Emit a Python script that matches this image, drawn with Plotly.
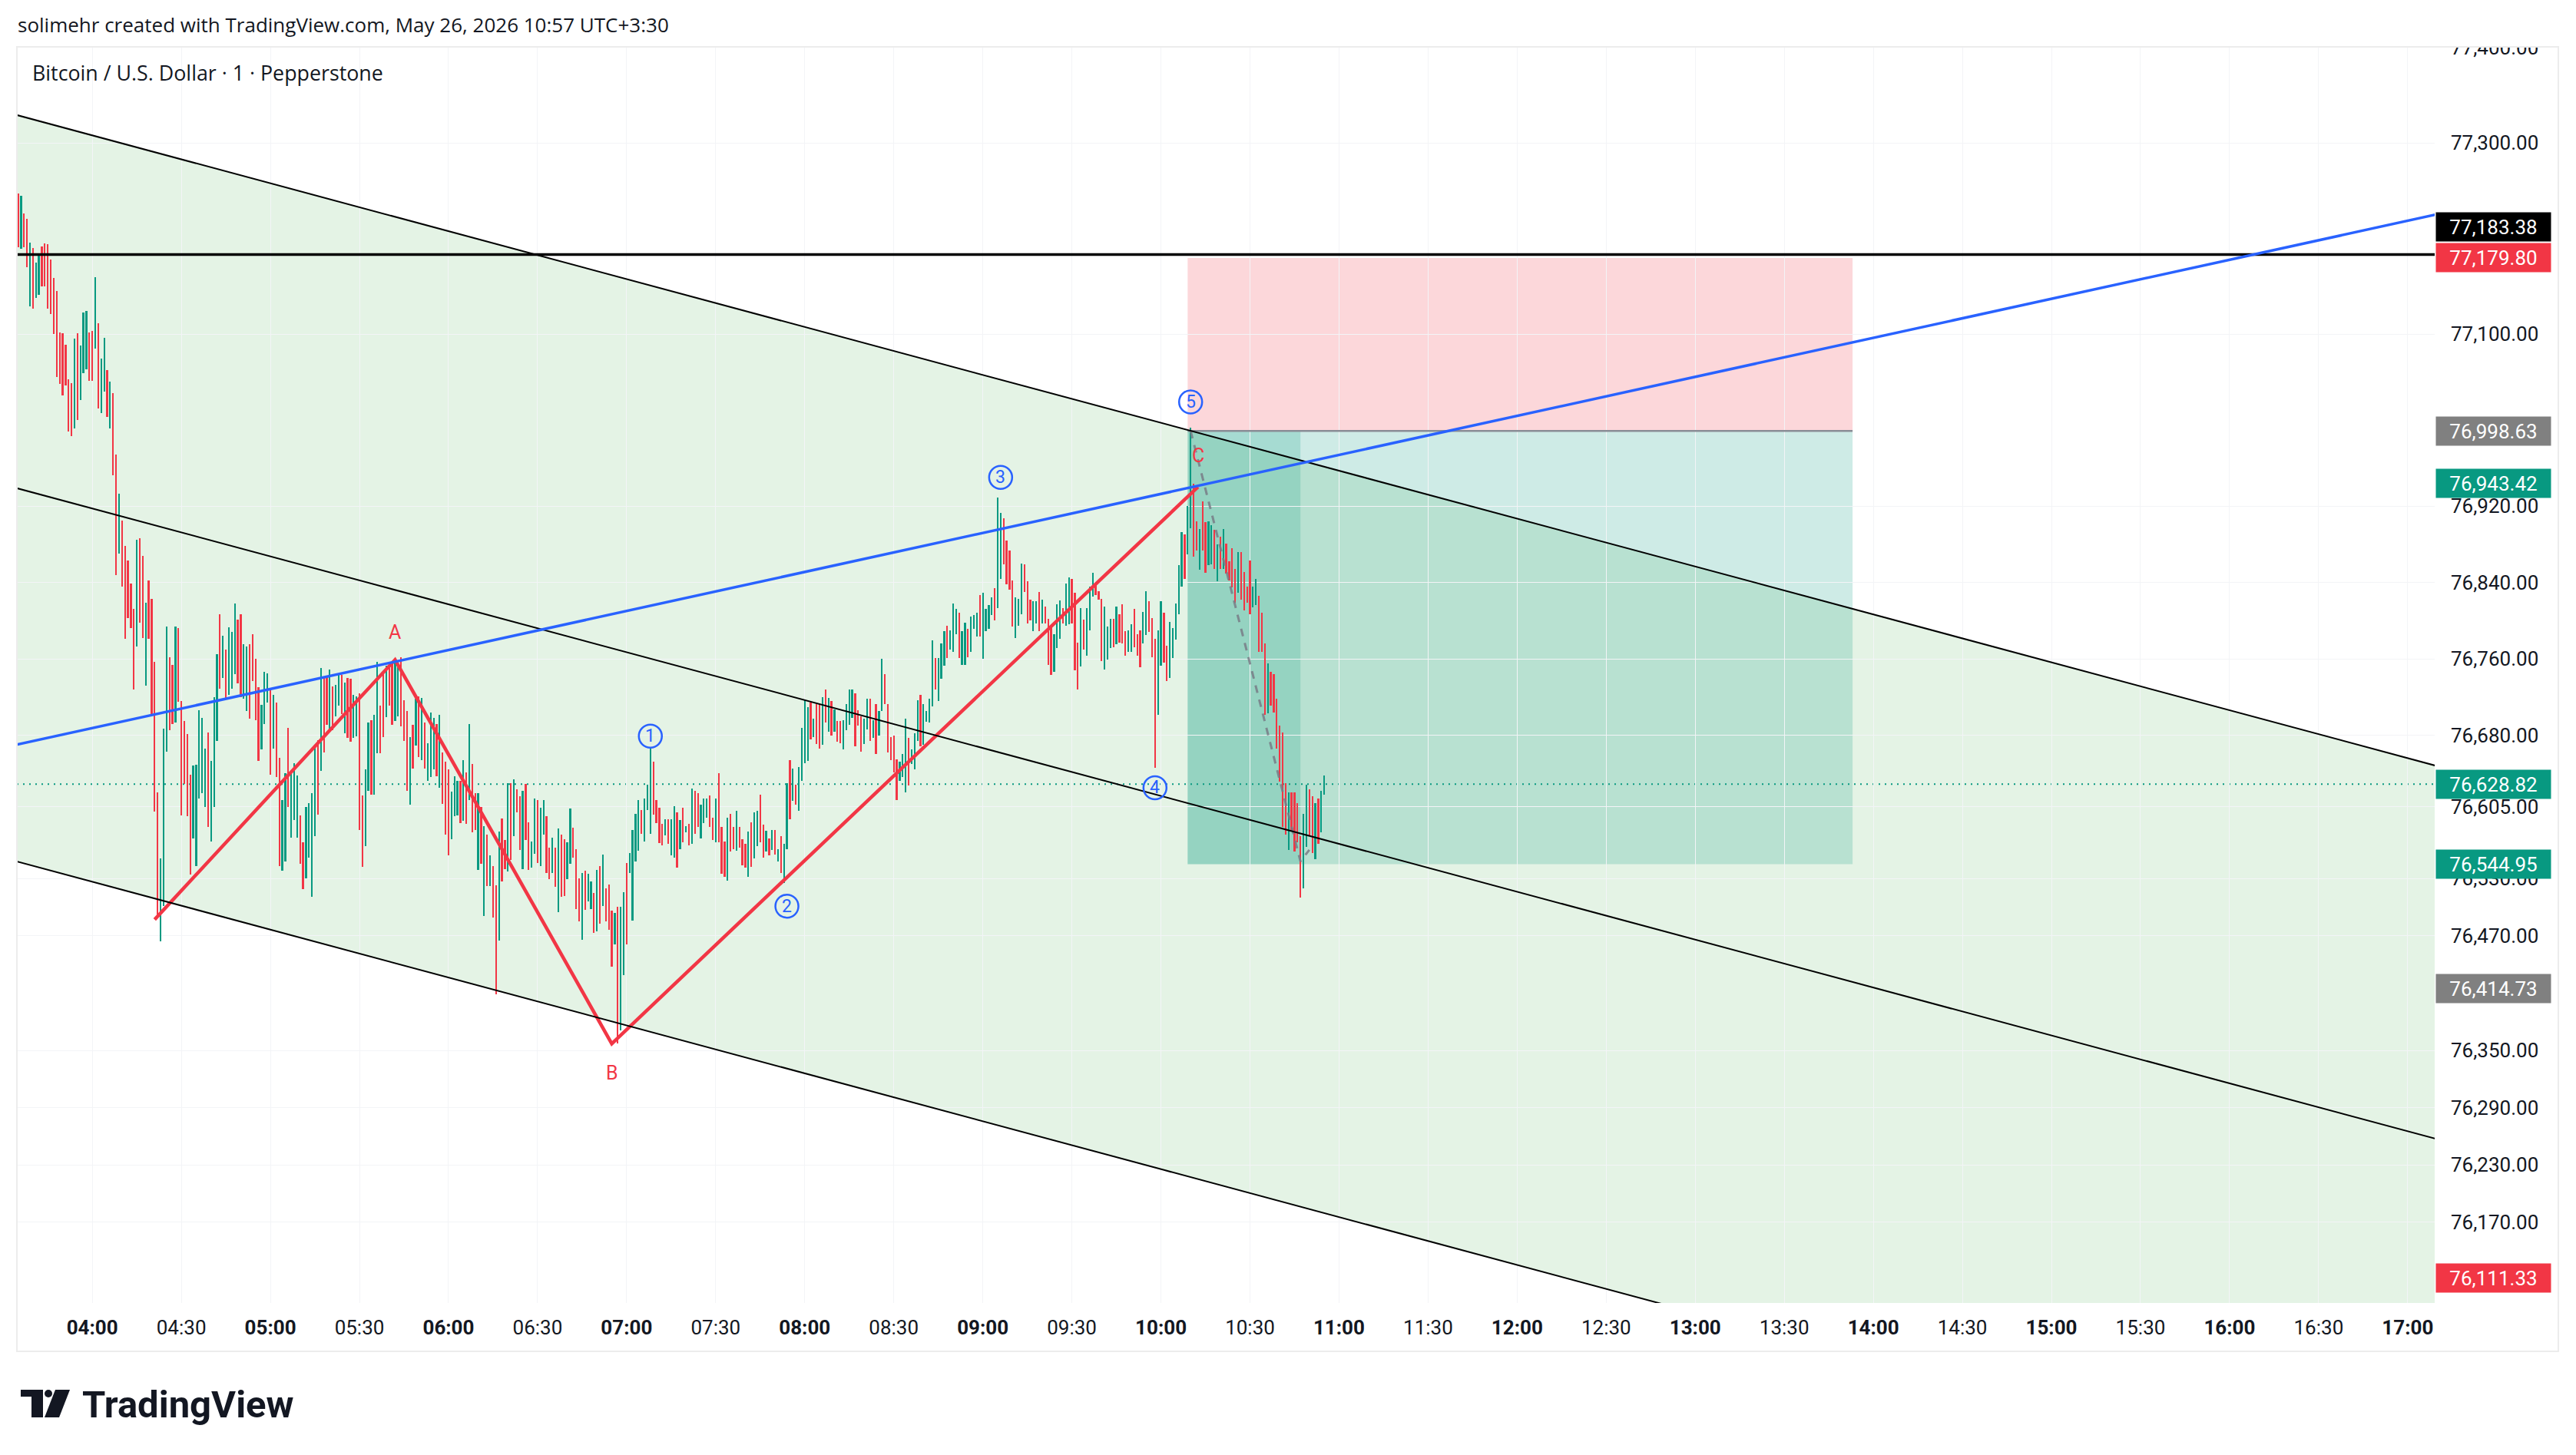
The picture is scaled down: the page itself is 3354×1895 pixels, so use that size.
import plotly.graph_objects as go

# ---------------------------------------------------------------- data
FIRST_BAR = "03:35"          # 1-minute bars, BTCUSD (Pepperstone)

bar_high = [
    77247, 77245, 77226, 77221, 77196, 77190, 77175, 77184, 77192, 77195,
    77194, 77178, 77159, 77145, 77102, 77101, 77089, 77053, 77049, 77095,
    77101, 77088, 77123, 77124, 77102, 77103, 77160, 77111, 77074, 77096,
    77062, 77050, 77038, 76974, 76933, 76905, 76878, 76863, 76839, 76812,
    76885, 76886, 76868, 76819, 76842, 76823, 76757, 76620, 76551, 76687,
    76794, 76762, 76754, 76794, 76792, 76716, 76695, 76681, 76639, 76648,
    76649, 76706, 76698, 76666, 76683, 76653, 76720, 76765, 76807, 76784,
    76770, 76793, 76788, 76818, 76801, 76807, 76775, 76773, 76775, 76786,
    76760, 76730, 76712, 76746, 76745, 76729, 76722, 76714, 76656, 76612,
    76640, 76688, 76640, 76651, 76638, 76596, 76568, 76605,
    76609, 76619, 76668, 76675, 76750, 76741, 76742, 76749, 76731, 76733,
    76744, 76743, 76735, 76740, 76739, 76722, 76721, 76724, 76617, 76644,
    76693, 76696, 76701, 76757, 76711, 76745, 76753, 76757, 76756, 76758,
    76758, 76762, 76717, 76705, 76678, 76691, 76718, 76721, 76719, 76693,
    76672, 76704, 76698, 76692, 76701, 76662, 76652, 76644, 76621, 76637,
    76632, 76632, 76654, 76641, 76692, 76650, 76619, 76619, 76605, 76585,
    76576, 76554, 76543, 76523, 76579, 76593, 76570, 76630, 76630, 76634,
    76623, 76616, 76622, 76629, 76589, 76569, 76614, 76612, 76604, 76612,
    76595, 76562, 76573, 76562, 76582, 76576, 76571, 76568, 76603, 76583,
    76561, 76530, 76536, 76538, 76535, 76527, 76515, 76539, 76543, 76555,
    76520, 76524, 76496, 76494, 76500, 76500, 76516, 76546, 76557, 76581, 76598,
    76612, 76602, 76614, 76628, 76667, 76652, 76612, 76604, 76587, 76592,
    76592, 76592, 76606, 76599, 76591, 76604, 76585, 76587, 76624, 76622,
    76619, 76607, 76614, 76614, 76617, 76594, 76614, 76640, 76584, 76569,
    76594, 76598, 76584, 76601, 76584, 76571, 76566, 76579, 76589, 76599,
    76601, 76618, 76586, 76580, 76572, 76581, 76581, 76561, 76574, 76566,
    76630, 76654, 76645, 76628, 76647, 76688, 76717, 76709, 76714, 76697,
    76713, 76713, 76720, 76728, 76719, 76716, 76707, 76695, 76695, 76696,
    76713, 76728, 76728, 76724, 76706, 76700, 76697, 76718, 76718, 76696,
    76713, 76705, 76760, 76744, 76713, 76678, 76680, 76655, 76652, 76660,
    76697, 76677, 76665, 76682, 76717, 76722, 76713, 76705, 76718, 76779,
    76761, 76761, 76776, 76789, 76795, 76790, 76818, 76812, 76808, 76789,
    76798, 76791, 76804, 76806, 76808, 76827, 76829, 76812, 76816, 76824, 76834, 76929,
    76913, 76907, 76884, 76873, 76842, 76824, 76823, 76860, 76859, 76841,
    76822, 76820, 76820, 76830, 76822, 76815, 76802, 76794, 76786, 76817,
    76821, 76813, 76839, 76845, 76844, 76829, 76777, 76813, 76801, 76813,
    76836, 76850, 76840, 76831, 76823, 76815, 76794, 76802, 76802, 76815,
    76807, 76817, 76789, 76790, 76796, 76812, 76786, 76790, 76809, 76831,
    76820, 76803, 76781, 76790, 76820, 76808, 76774, 76799, 76792, 76818,
    76858, 76893, 76890, 76920, 77002, 76943, 76904, 76896, 76925, 76903,
    76904, 76900, 76895, 76880, 76888, 76896, 76881, 76862, 76876, 76854,
    76872, 76872, 76851, 76836, 76863, 76836, 76844, 76826, 76808, 76776,
    76755, 76746, 76744, 76718, 76690, 76683, 76630, 76620, 76620, 76620,
    76609, 76574, 76598, 76628, 76623, 76616, 76609, 76614, 76622, 76638,
]

bar_low = [
    77191, 77189, 77191, 77170, 77129, 77127, 77138, 77141, 77150, 77150,
    77127, 77121, 77100, 77055, 77048, 77036, 77046, 76998, 76993, 77001,
    77010, 77031, 77059, 77063, 77051, 77051, 77085, 77022, 77017, 77040,
    77013, 77001, 76952, 76848, 76870, 76836, 76781, 76803, 76792, 76728,
    76773, 76798, 76782, 76732, 76781, 76701, 76600, 76492, 76464, 76501,
    76663, 76685, 76692, 76693, 76715, 76596, 76629, 76595, 76534, 76572,
    76543, 76614, 76619, 76605, 76584, 76569, 76605, 76674, 76729, 76740,
    76719, 76722, 76729, 76744, 76734, 76720, 76718, 76705, 76697, 76737,
    76696, 76653, 76665, 76692, 76714, 76639, 76666, 76636, 76543, 76538,
    76548, 76605, 76573, 76591, 76573, 76545, 76519, 76530,
    76552, 76511, 76574, 76597, 76643, 76662, 76691, 76686, 76685, 76700,
    76711, 76702, 76682, 76677, 76673, 76677, 76679, 76581, 76542, 76564,
    76622, 76618, 76618, 76661, 76661, 76678, 76699, 76711, 76691, 76695,
    76700, 76689, 76674, 76622, 76607, 76645, 76669, 76657, 76654, 76645,
    76632, 76636, 76644, 76637, 76625, 76608, 76576, 76554, 76571, 76595,
    76596, 76588, 76590, 76587, 76612, 76578, 76581, 76539, 76545, 76491,
    76522, 76522, 76489, 76409, 76465, 76527, 76540, 76537, 76549, 76574,
    76599, 76560, 76540, 76570, 76539, 76541, 76556, 76546, 76543, 76576,
    76536, 76529, 76536, 76521, 76495, 76511, 76512, 76529, 76545, 76552,
    76498, 76485, 76466, 76497, 76506, 76498, 76473, 76475, 76483, 76501,
    76485, 76476, 76438, 76461, 76357, 76371, 76429, 76461, 76536, 76486, 76548,
    76559, 76577, 76569, 76602, 76577, 76597, 76588, 76567, 76565, 76575,
    76566, 76554, 76552, 76541, 76561, 76568, 76578, 76565, 76566, 76577,
    76584, 76572, 76588, 76594, 76584, 76570, 76568, 76568, 76535, 76532,
    76528, 76558, 76561, 76559, 76562, 76544, 76541, 76532, 76542, 76551,
    76564, 76568, 76552, 76558, 76554, 76560, 76555, 76548, 76536, 76525,
    76561, 76592, 76611, 76607, 76601, 76632, 76651, 76653, 76676, 76678,
    76671, 76666, 76670, 76693, 76684, 76680, 76684, 76673, 76672, 76665,
    76685, 76691, 76698, 76668, 76690, 76663, 76671, 76686, 76674, 76677,
    76660, 76680, 76705, 76713, 76662, 76654, 76641, 76612, 76632, 76636,
    76620, 76627, 76650, 76644, 76674, 76668, 76670, 76694, 76693, 76710,
    76728, 76716, 76739, 76753, 76761, 76770, 76767, 76786, 76761, 76754,
    76754, 76762, 76767, 76791, 76783, 76783, 76760, 76789, 76791, 76806, 76800, 76813,
    76844, 76859, 76838, 76832, 76794, 76782, 76795, 76807, 76830, 76797,
    76800, 76789, 76797, 76789, 76797, 76797, 76754, 76743, 76746, 76771,
    76781, 76797, 76795, 76796, 76797, 76748, 76728, 76752, 76770, 76763,
    76790, 76825, 76827, 76822, 76758, 76749, 76759, 76771, 76772, 76775,
    76777, 76776, 76763, 76767, 76767, 76772, 76763, 76751, 76776, 76785,
    76788, 76762, 76646, 76701, 76753, 76756, 76737, 76740, 76761, 76780,
    76807, 76836, 76844, 76869, 76897, 76867, 76873, 76853, 76873, 76850,
    76858, 76859, 76854, 76841, 76854, 76854, 76849, 76842, 76835, 76819,
    76829, 76822, 76811, 76819, 76807, 76814, 76816, 76767, 76767, 76701,
    76703, 76711, 76704, 76666, 76631, 76584, 76576, 76560, 76580, 76558,
    76568, 76510, 76520, 76563, 76574, 76557, 76550, 76566, 76578, 76618,
]

# 1 = up (green) bar, 0 = down (red) bar
bar_up = [
    0, 1, 0, 0, 1, 0, 1, 1, 0, 0,  0, 0, 0, 0, 0, 0, 0, 0, 0, 1,
    0, 1, 1, 1, 0, 0, 1, 0, 1, 1,  0, 1, 0, 0, 1, 0, 0, 0, 0, 0,
    1, 0, 0, 1, 0, 0, 0, 0, 1, 1,  1, 0, 0, 1, 0, 0, 0, 0, 0, 1,
    1, 1, 1, 1, 0, 1, 1, 1, 0, 1,  0, 1, 1, 1, 0, 0, 1, 1, 0, 0,
    0, 0, 1, 1, 1, 0, 1, 0, 0, 1,  1, 0, 1, 1, 1, 0, 0, 1,
    1, 1, 1, 0, 1, 0, 0, 1, 0, 1,  1, 0, 1, 0, 0, 1, 1, 0, 0, 1,
    1, 0, 1, 1, 0, 0, 1, 0, 0, 1,  1, 0, 0, 0, 1, 0, 1, 0, 1, 0,
    1, 1, 1, 0, 1, 0, 0, 0, 1, 1,  1, 0, 1, 0, 1, 0, 0, 1, 0, 1,
    0, 1, 0, 0, 1, 0, 0, 1, 0, 1,  0, 0, 1, 0, 0, 1, 1, 0, 1, 1,
    0, 0, 1, 0, 1, 0, 0, 1, 1, 0,  0, 0, 1, 0, 1, 1, 0, 1, 0, 1,
    0, 0, 0, 1, 0, 1, 1, 0, 1, 1, 1,
    1, 0, 1, 1, 1, 0, 0, 0, 0, 1,  0, 1, 1, 0, 1, 0, 1, 0, 1, 0,
    0, 1, 1, 1, 0, 0, 1, 0, 0, 0,  1, 0, 0, 1, 0, 0, 0, 1, 0, 1,
    1, 0, 0, 1, 0, 1, 0, 1, 0, 1,  1, 0, 1, 0, 1, 1, 1, 1, 0, 1,
    0, 0, 1, 0, 1, 0, 1, 0, 0, 1,  1, 1, 1, 0, 0, 0, 1, 1, 0, 1,
    0, 1, 1, 0, 0, 0, 0, 0, 1, 1,  1, 0, 1, 1, 1, 0, 1, 1, 1, 1,
    0, 1, 1, 1, 0, 1, 1, 1, 0, 1,  1, 0, 1, 1, 1, 0, 1, 1, 1, 1, 0, 1,
    1, 0, 0, 0, 0, 1, 1, 1, 0, 0,  0, 1, 1, 0, 1, 0, 0, 0, 1, 1,
    1, 0, 1, 1, 0, 0, 0, 1, 0, 1,  1, 1, 0, 0, 0, 1, 1, 1, 0, 1,
    0, 0, 0, 1, 1, 0, 0, 0, 1, 1,  0, 0, 0, 1, 1, 0, 0, 1, 1, 1,
    1, 1, 0, 1, 1, 0, 0, 1, 0, 0,  1, 1, 0, 1, 0, 1, 0, 0, 0, 0,
    1, 0, 0, 0, 0, 1, 1, 0, 0, 0,  1, 0, 0, 0, 0, 0, 0, 1, 0, 0,
    0, 0, 1, 1, 0, 0, 1, 0, 1, 1,
]

time_ticks = ["04:00", "04:30", "05:00", "05:30", "06:00", "06:30", "07:00",
              "07:30", "08:00", "08:30", "09:00", "09:30", "10:00", "10:30",
              "11:00", "11:30", "12:00", "12:30", "13:00", "13:30", "14:00",
              "14:30", "15:00", "15:30", "16:00", "16:30", "17:00"]

# price-scale labels that are visible (others sit behind the price tags)
price_ticks = [77400, 77300, 77100, 76920, 76840, 76760, 76680,
               76605, 76530, 76470, 76350, 76290, 76230, 76170]

# drawings (time, price)
channel_upper = [("03:35", 77329.0), ("17:00", 76656.0)]
channel_mid = [("03:35", 76938.3), ("17:00", 76265.3)]
channel_lower = [("03:35", 76547.5), ("17:00", 75874.5)]
trend_blue = [("03:35", 76670.5), ("17:00", 77218.7)]
hline_price = 77183.38
zigzag = [("04:21", 76487), ("05:42", 76759), ("06:55", 76357), ("10:12.5", 76940)]
abc_labels = [("A", "05:42", 76788), ("B", "06:55", 76326), ("C", "10:12.5", 76973)]
wave_labels = [("1", "07:08", 76679), ("2", "07:54", 76501), ("3", "09:06", 76950),
               ("4", "09:58", 76625), ("5", "10:10", 77029)]

pos_start, pos_end, pos_reached = "10:09", "13:53", "10:47"
pos_entry, pos_stop, pos_target = 76998.63, 77179.80, 76544.95
pos_path = [("10:10", 76998.63), ("10:47", 76548), ("10:50", 76560)]
last_price = 76628.82

axis_tags = [(77183.38, "#000000"), (77179.80, "#f23645"), (76998.63, "#808080"),
             (76943.42, "#089981"), (76628.82, "#089981"), (76544.95, "#089981"),
             (76414.73, "#808080"), (76111.33, "#f23645")]

HEADER = "solimehr created with TradingView.com, May 26, 2026 10:57 UTC+3:30"
SYMBOL = "Bitcoin / U.S. Dollar · 1 · Pepperstone"

# ---------------------------------------------------------------- helpers
def tmin(s):
    """minutes relative to 04:00"""
    h, m = s.split(":")
    return (int(h) - 4) * 60 + float(m)


W, H = 3354, 1895
PL, PR, PT, PB = 22, 3170, 61, 1697          # plot area in page pixels
X_RANGE = [-25.4, 789.1]
Y_RANGE = [76085.5, 77400.8]
FONT = "Roboto"
HFONT = "Open Sans"
UP, DOWN = "#089981", "#f23645"
BLUE = "#2962ff"


def pxx(px):
    return (px - PL) / (PR - PL)


def pxy(py):
    return (PB - py) / (PB - PT)


def extend(p1, p2):
    x1, y1 = tmin(p1[0]), p1[1]
    x2, y2 = tmin(p2[0]), p2[1]
    k = (y2 - y1) / (x2 - x1)
    xa, xb = X_RANGE[0] - 2, X_RANGE[1] + 2
    return xa, y1 + k * (xa - x1), xb, y1 + k * (xb - x1)


x0 = tmin(FIRST_BAR)
bar_x = [x0 + i for i in range(len(bar_high))]

fig = go.Figure()
fig.add_trace(go.Bar(
    x=bar_x,
    base=bar_low,
    y=[h - l for h, l in zip(bar_high, bar_low)],
    width=0.58,
    marker=dict(color=[UP if u else DOWN for u in bar_up], line=dict(width=0)),
    hoverinfo="skip",
))

shapes = []
# channel fill
ua = extend(*channel_upper)
la = extend(*channel_lower)
shapes.append(dict(type="path", xref="x", yref="y", layer="below",
                   path=f"M{ua[0]},{ua[1]} L{ua[2]},{ua[3]} L{la[2]},{la[3]} L{la[0]},{la[1]} Z",
                   fillcolor="rgba(76,175,80,0.15)", line=dict(width=0)))
# position tool
ps, pe, pr = tmin(pos_start), tmin(pos_end), tmin(pos_reached)
shapes.append(dict(type="rect", xref="x", yref="y", layer="below", x0=ps, x1=pe,
                   y0=pos_entry, y1=pos_stop, fillcolor="rgba(242,54,69,0.2)", line=dict(width=0)))
shapes.append(dict(type="rect", xref="x", yref="y", layer="below", x0=ps, x1=pe,
                   y0=pos_target, y1=pos_entry, fillcolor="rgba(8,153,129,0.2)", line=dict(width=0)))
shapes.append(dict(type="rect", xref="x", yref="y", layer="below", x0=ps, x1=pr,
                   y0=pos_target, y1=pos_entry, fillcolor="rgba(8,153,129,0.2)", line=dict(width=0)))
shapes.append(dict(type="line", xref="x", yref="y", layer="above", x0=ps, x1=pe,
                   y0=pos_entry, y1=pos_entry, line=dict(color="#8a8d96", width=2.5)))
# last price dotted
shapes.append(dict(type="line", xref="x", yref="y", layer="below", x0=X_RANGE[0], x1=X_RANGE[1],
                   y0=last_price, y1=last_price, line=dict(color=UP, width=2, dash="2px,6px")))
# channel lines
for ln in (channel_upper, channel_mid, channel_lower):
    a = extend(*ln)
    shapes.append(dict(type="line", xref="x", yref="y", layer="above",
                       x0=a[0], y0=a[1], x1=a[2], y1=a[3], line=dict(color="#000000", width=2)))
# horizontal line
shapes.append(dict(type="line", xref="x", yref="y", layer="above", x0=X_RANGE[0] - 2, x1=X_RANGE[1] + 2,
                   y0=hline_price, y1=hline_price, line=dict(color="#000000", width=3.5)))
# blue trend line
b = extend(*trend_blue)
shapes.append(dict(type="line", xref="x", yref="y", layer="above",
                   x0=b[0], y0=b[1], x1=b[2], y1=b[3], line=dict(color=BLUE, width=3.5)))

fig.add_trace(go.Scatter(x=[tmin(t) for t, _ in pos_path], y=[p for _, p in pos_path],
                         mode="lines", line=dict(color="rgba(120,123,134,0.85)", width=3, dash="10px,9px"),
                         hoverinfo="skip"))
fig.add_trace(go.Scatter(x=[tmin(t) for t, _ in zigzag], y=[p for _, p in zigzag],
                         mode="lines", line=dict(color=DOWN, width=4.5), hoverinfo="skip"))

annotations = []
for txt, t, p in abc_labels:
    annotations.append(dict(x=tmin(t), y=p, xref="x", yref="y", text=txt, showarrow=False,
                            font=dict(family=FONT, size=25, color=DOWN)))
for txt, t, p in wave_labels:
    shapes.append(dict(type="circle", xref="x", yref="y", layer="above",
                       xsizemode="pixel", ysizemode="pixel", xanchor=tmin(t), yanchor=p,
                       x0=-15, x1=15, y0=-15, y1=15, line=dict(color=BLUE, width=2.5)))
    annotations.append(dict(x=tmin(t), y=p, xref="x", yref="y", text=txt, showarrow=False,
                            font=dict(family=FONT, size=23, color=BLUE)))

# header texts
annotations.append(dict(x=pxx(21), y=pxy(32), xref="paper", yref="paper", text=HEADER,
                        showarrow=False, xanchor="left", yanchor="middle",
                        font=dict(family=HFONT, size=26, color="#131722")))
annotations.append(dict(x=pxx(40), y=pxy(94), xref="paper", yref="paper", text=SYMBOL,
                        showarrow=False, xanchor="left", yanchor="middle",
                        font=dict(family=HFONT, size=26.8, color="#131722")))

# price tags on the axis
for val, col in axis_tags:
    shift = 36 if col == "#000000" else 0
    annotations.append(dict(x=pxx(3171), y=val, xref="paper", yref="y", text=f"{val:,.2f}",
                            showarrow=False, xanchor="left", yanchor="middle", yshift=shift,
                            bgcolor=col, width=145, height=33, borderpad=2, align="center",
                            font=dict(family=FONT, size=26, color="#ffffff")))

# TradingView logo
annotations.append(dict(x=pxx(105), y=pxy(1829), xref="paper", yref="paper", text="<b>TradingView</b>",
                        showarrow=False, xanchor="left", yanchor="middle",
                        font=dict(family=FONT, size=49, color="#131722")))
logo = "#131722"
shapes += [
    dict(type="rect", xref="paper", yref="paper", x0=pxx(27), x1=pxx(56), y0=pxy(1819), y1=pxy(1810),
         fillcolor=logo, line=dict(width=0), layer="above"),
    dict(type="rect", xref="paper", yref="paper", x0=pxx(41), x1=pxx(56), y0=pxy(1846), y1=pxy(1810),
         fillcolor=logo, line=dict(width=0), layer="above"),
    dict(type="circle", xref="paper", yref="paper", x0=pxx(58), x1=pxx(68), y0=pxy(1820), y1=pxy(1810),
         fillcolor=logo, line=dict(width=0), layer="above"),
    dict(type="path", xref="paper", yref="paper", layer="above", fillcolor=logo, line=dict(width=0),
         path=f"M{pxx(72)},{pxy(1810)} L{pxx(91)},{pxy(1810)} L{pxx(77)},{pxy(1846)} L{pxx(58)},{pxy(1846)} Z"),
]
# mask the top half of the clipped axis label + pane border
shapes.append(dict(type="rect", xref="paper", yref="paper", layer="above",
                   x0=pxx(3160), x1=pxx(3340), y0=pxy(PT), y1=pxy(40),
                   fillcolor="#ffffff", line=dict(width=0)))
shapes.append(dict(type="rect", xref="paper", yref="paper", layer="above",
                   x0=pxx(22), x1=pxx(3331), y0=pxy(1760), y1=pxy(61),
                   fillcolor="rgba(0,0,0,0)", line=dict(color="#ececec", width=2)))

fig.update_layout(
    width=W, height=H,
    margin=dict(l=PL, r=W - PR, t=PT, b=H - PB, pad=0),
    paper_bgcolor="#ffffff", plot_bgcolor="#ffffff",
    showlegend=False, bargap=0,
    shapes=shapes, annotations=annotations,
    font=dict(family=FONT, color="#131722"),
)
fig.update_xaxes(
    range=X_RANGE, tickmode="array",
    tickvals=[tmin(t) for t in time_ticks],
    ticktext=[f"<b>{t}</b>" if t.endswith(":00") else t for t in time_ticks],
    tickfont=dict(family=FONT, size=26, color="#131722"),
    ticks="", ticklabelstandoff=14,
    showgrid=True, gridcolor="#f3f4f7", gridwidth=1, zeroline=False, showline=False,
)
fig.update_yaxes(
    range=Y_RANGE, side="right", tickmode="array",
    tickvals=price_ticks, ticktext=[f"{v:,.2f}" for v in price_ticks],
    tickfont=dict(family=FONT, size=26, color="#131722"),
    ticks="", ticklabelstandoff=20,
    showgrid=True, gridcolor="#f3f4f7", gridwidth=1, zeroline=False, showline=False,
)

fig.write_html("out.html")
